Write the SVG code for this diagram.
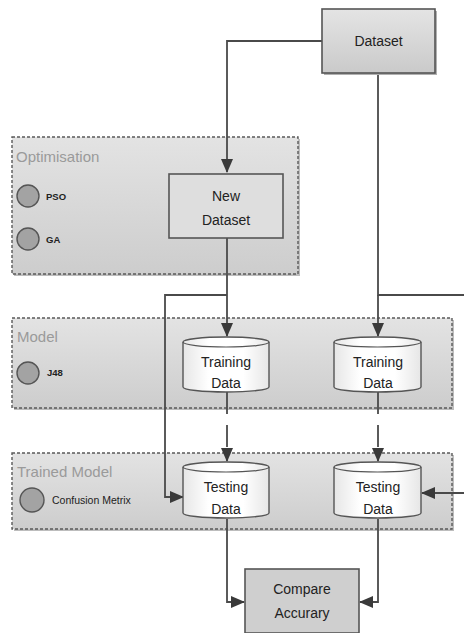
<svg xmlns="http://www.w3.org/2000/svg" width="464" height="633" viewBox="0 0 464 633">
<style>
  .grp { stroke: #5a5a5a; stroke-width: 1.4; stroke-dasharray: 3 2; fill: url(#gfill); }
  .shadow { fill: #bdbdbd; }
  .gtitle { font-family: "Liberation Sans", Arial, sans-serif; font-size: 15px; fill: #9a9a9a; }
  .dot { fill: #a3a3a3; stroke: #555; stroke-width: 1.4; }
  .small { font-family: "Liberation Sans", Arial, sans-serif; font-size: 9.5px; font-weight: bold; fill: #222; }
  .lbl { font-family: "Liberation Sans", Arial, sans-serif; font-size: 14px; fill: #222; text-anchor: middle; }
  .box { stroke: #555; stroke-width: 1.6; }
  .cyl { fill: url(#cfill); stroke: #555; stroke-width: 1.4; }
  .conn { fill: none; stroke: #4a4a4a; stroke-width: 1.8; }
  .dash { stroke-dasharray: 22 11; }
</style>
<defs>
  <linearGradient id="gfill" x1="0" y1="0" x2="0" y2="1">
    <stop offset="0" stop-color="#e3e3e3"/>
    <stop offset="1" stop-color="#cdcdcd"/>
  </linearGradient>
  <linearGradient id="bfill" x1="0" y1="0" x2="0" y2="1">
    <stop offset="0" stop-color="#e4e4e4"/>
    <stop offset="1" stop-color="#cacaca"/>
  </linearGradient>
  <linearGradient id="cfill" x1="0" y1="0" x2="1" y2="0">
    <stop offset="0" stop-color="#e6e6e6"/>
    <stop offset="0.3" stop-color="#ffffff"/>
    <stop offset="0.7" stop-color="#ffffff"/>
    <stop offset="1" stop-color="#e6e6e6"/>
  </linearGradient>
  <marker id="arr" viewBox="0 0 14 12" refX="13" refY="6" markerWidth="14" markerHeight="12" orient="auto" markerUnits="userSpaceOnUse">
    <path d="M0,0 L14,6 L0,12 z" fill="#3a3a3a"/>
  </marker>
</defs>

<g id="group-optimisation">
  <rect class="shadow" x="14" y="139" width="286" height="137"/>
  <rect class="grp" x="12" y="137" width="286" height="137"/>
  <text class="gtitle" x="16" y="162">Optimisation</text>
</g>
<g id="group-model">
  <rect class="shadow" x="14" y="320" width="440" height="90"/>
  <rect class="grp" x="12" y="318" width="440" height="90"/>
  <text class="gtitle" x="17" y="342">Model</text>
</g>
<g id="group-trained">
  <rect class="shadow" x="14" y="455" width="440" height="76"/>
  <rect class="grp" x="12" y="453" width="440" height="76"/>
  <text class="gtitle" x="17" y="477">Trained Model</text>
</g>

<g id="pso">
  <circle class="dot" cx="28" cy="196" r="11"/>
  <text class="small" x="46" y="200">PSO</text>
</g>
<g id="ga">
  <circle class="dot" cx="28" cy="239" r="11"/>
  <text class="small" x="46" y="243">GA</text>
</g>
<g id="j48">
  <circle class="dot" cx="28" cy="373" r="11"/>
  <text class="small" x="47" y="376">J48</text>
</g>
<g id="confusion">
  <circle class="dot" cx="32" cy="500" r="12"/>
  <text class="small" x="52" y="504" style="font-size:10.5px;font-weight:normal">Confusion Metrix</text>
</g>

<g id="connectors">
  <path class="conn" d="M322,41 H227 V172" marker-end="url(#arr)"/>
  <path class="conn" d="M378,73 V295 H470 V493 H422" marker-end="url(#arr)"/>
  <path class="conn" d="M378,295 V336" marker-end="url(#arr)"/>
  <path class="conn" d="M227,238 V336" marker-end="url(#arr)"/>
  <path class="conn" d="M227,295 H165 V497 H183" marker-end="url(#arr)"/>
  <path class="conn dash" d="M227,392 V461" marker-end="url(#arr)"/>
  <path class="conn dash" d="M378,392 V461" marker-end="url(#arr)"/>
  <path class="conn" d="M227,519 V602 H244" marker-end="url(#arr)"/>
  <path class="conn" d="M378,519 V602 H360" marker-end="url(#arr)"/>
</g>

<g id="dataset">
  <rect x="324" y="11" width="113" height="64" fill="#b0b0b0"/>
  <rect class="box" x="322" y="9" width="113" height="64" fill="url(#bfill)"/>
  <text class="lbl" x="378.5" y="46">Dataset</text>
</g>
<g id="new-dataset">
  <rect class="box" x="169" y="174" width="114" height="64" fill="#dedede"/>
  <text class="lbl" x="226" y="201">New</text>
  <text class="lbl" x="226" y="225">Dataset</text>
</g>
<g id="training-1">
  <path class="cyl" d="M183,342 A43,5 0 0 1 269,342 V387 A43,5 0 0 1 183,387 Z"/>
  <path fill="none" stroke="#555" stroke-width="1.2" d="M183,342 A43,5 0 0 0 269,342"/>
  <text class="lbl" x="226" y="367">Training</text>
  <text class="lbl" x="226" y="388">Data</text>
</g>
<g id="training-2">
  <path class="cyl" d="M334,342 A43.5,5 0 0 1 421,342 V387 A43.5,5 0 0 1 334,387 Z"/>
  <path fill="none" stroke="#555" stroke-width="1.2" d="M334,342 A43.5,5 0 0 0 421,342"/>
  <text class="lbl" x="378" y="367">Training</text>
  <text class="lbl" x="378" y="388">Data</text>
</g>
<g id="testing-1">
  <path class="cyl" d="M183,467 A43,5 0 0 1 269,467 V513 A43,5 0 0 1 183,513 Z"/>
  <path fill="none" stroke="#555" stroke-width="1.2" d="M183,467 A43,5 0 0 0 269,467"/>
  <text class="lbl" x="226" y="492">Testing</text>
  <text class="lbl" x="226" y="514">Data</text>
</g>
<g id="testing-2">
  <path class="cyl" d="M334,467 A43.5,5 0 0 1 421,467 V513 A43.5,5 0 0 1 334,513 Z"/>
  <path fill="none" stroke="#555" stroke-width="1.2" d="M334,467 A43.5,5 0 0 0 421,467"/>
  <text class="lbl" x="378" y="492">Testing</text>
  <text class="lbl" x="378" y="514">Data</text>
</g>
<g id="compare">
  <rect class="box" x="245" y="569" width="114" height="64" fill="#cfcfcf"/>
  <text class="lbl" x="302" y="594">Compare</text>
  <text class="lbl" x="302" y="618">Accurary</text>
</g>
</svg>
